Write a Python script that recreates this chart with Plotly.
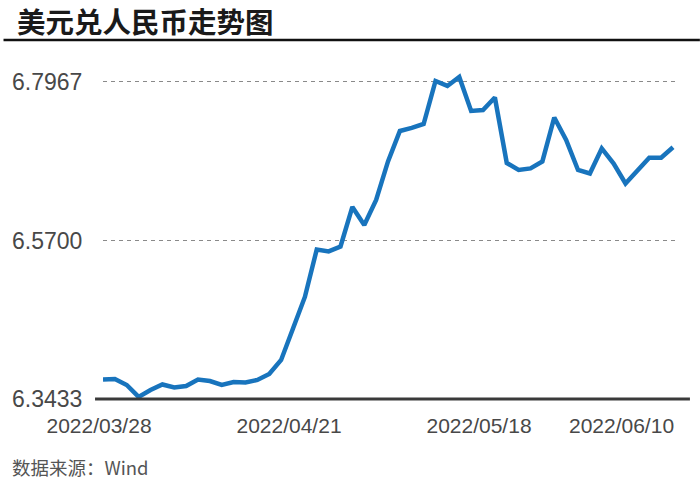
import plotly.graph_objects as go

# USD/CNY daily values (trading-day index 0..48)
values = [
    6.3712, 6.3719, 6.3633, 6.3462, 6.3562, 6.3640, 6.3597, 6.3619, 6.3712, 6.3690,
    6.3633, 6.3676, 6.3669, 6.3705, 6.3791, 6.3991, 6.4441, 6.4892, 6.5571, 6.5543,
    6.5614, 6.6179, 6.5922, 6.6279, 6.6830, 6.7266, 6.7309, 6.7366, 6.7981, 6.7910,
    6.8038, 6.7552, 6.7566, 6.7745, 6.6808, 6.6708, 6.6730, 6.6830, 6.7459, 6.7137,
    6.6708, 6.6658, 6.7016, 6.6801, 6.6515, 6.6708, 6.6884, 6.6884, 6.7033,
]
day_index = list(range(len(values)))

x_tick_positions = [0, 16, 32, 44]
x_tick_labels = ["2022/03/28", "2022/04/21", "2022/05/18", "2022/06/10"]
y_tick_values = [6.3433, 6.5700, 6.7967]

title_text = "美元兑人民币走势图"
source_text = "数据来源：Wind"

W, H = 700, 481
L, R, T, B = 100, 22, 60, 77
PW = W - L - R
PH = H - T - B


def px_x(px):
    return (px - L) / PW


def px_y(py):
    return (H - B - py) / PH


fig = go.Figure()
fig.add_trace(go.Scatter(
    x=day_index, y=values, mode="lines",
    line=dict(color="#1874bd", width=4.5),
    hoverinfo="skip",
))

fig.update_layout(
    width=W, height=H,
    margin=dict(l=L, r=R, t=T, b=B, pad=0),
    paper_bgcolor="white", plot_bgcolor="white",
    showlegend=False,
    xaxis=dict(
        range=[0, 48.42], showgrid=False, zeroline=False, showline=False,
        tickmode="array", tickvals=x_tick_positions, ticktext=x_tick_labels,
        ticks="outside", ticklen=3, tickcolor="rgba(0,0,0,0)",
        ticklabelshift=-4,
        tickfont=dict(family="Liberation Sans", size=21, color="#484848"),
    ),
    yaxis=dict(
        range=[6.3361, 6.8281], zeroline=False, showline=False,
        tickmode="array", tickvals=y_tick_values, tickformat=".4f",
        showgrid=True, gridcolor="#8a8a8a", gridwidth=1, griddash="4px,4px",
        ticks="outside", ticklen=15, tickcolor="rgba(0,0,0,0)",
        tickfont=dict(family="Liberation Sans", size=23, color="#484848"),
    ),
    font=dict(family="Noto Sans CJK SC"),
)

# bottom axis baseline
fig.add_shape(type="line", xref="paper", yref="y",
              x0=px_x(92), x1=px_x(690), y0=y_tick_values[0], y1=y_tick_values[0],
              line=dict(color="#3a3a3a", width=3))
# title underline
fig.add_shape(type="line", xref="paper", yref="paper",
              x0=px_x(0), x1=px_x(700), y0=px_y(40), y1=px_y(40),
              line=dict(color="#111", width=2.5))

fig.add_annotation(text="<b>" + title_text + "</b>", xref="paper", yref="paper",
                   x=px_x(12), y=px_y(20), xanchor="left", yanchor="middle",
                   showarrow=False,
                   font=dict(family="Noto Sans CJK SC", size=28.5, color="#1a1a1a"))
fig.add_annotation(text=source_text, xref="paper", yref="paper",
                   x=px_x(7), y=px_y(467), xanchor="left", yanchor="middle",
                   showarrow=False,
                   font=dict(family="Noto Sans CJK SC", size=18.5, color="#555"))

fig.write_html("out.html",
               config={"displayModeBar": False},
               post_script="document.body.style.margin='0';document.body.style.overflow='hidden';")
